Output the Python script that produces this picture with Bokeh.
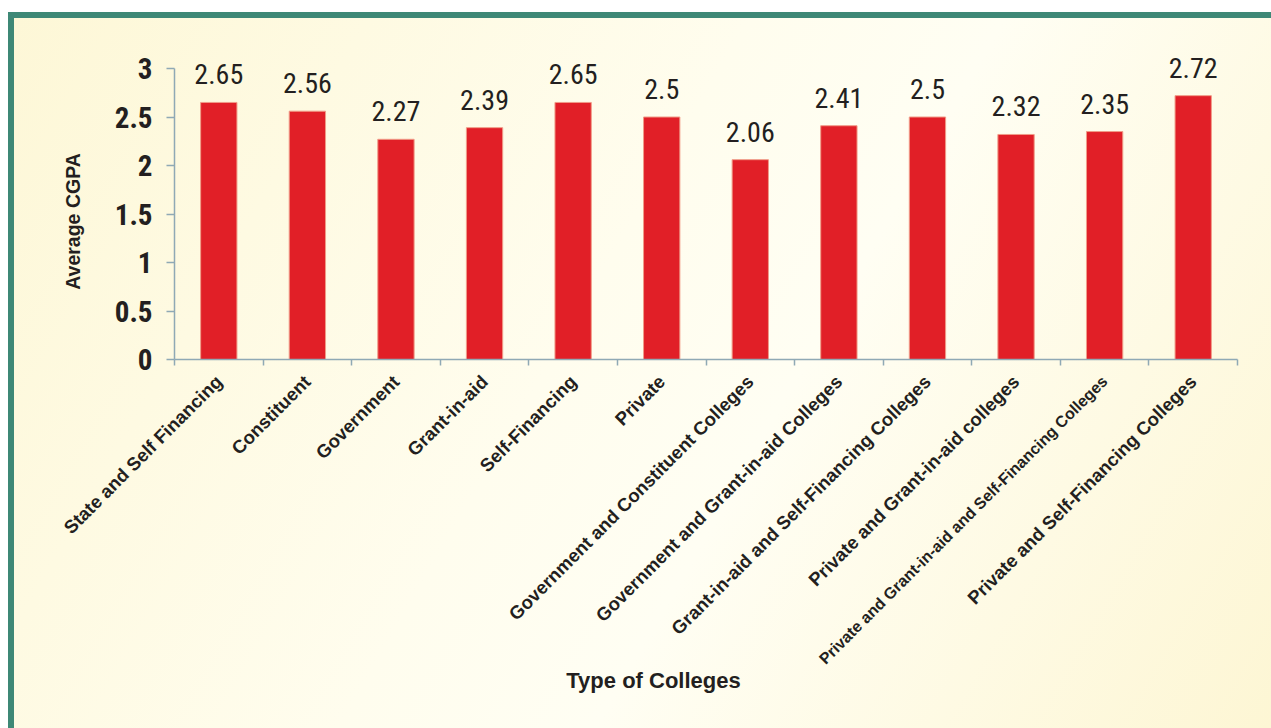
import math
from bokeh.plotting import figure
from bokeh.models import ColumnDataSource, FixedTicker, Range1d
from bokeh.core.properties import value
from bokeh.embed import file_html
from bokeh.resources import INLINE

# ---- data ----
categories = [
    "State and Self Financing",
    "Constituent",
    "Government",
    "Grant-in-aid",
    "Self-Financing",
    "Private",
    "Government and Constituent Colleges",
    "Government and Grant-in-aid Colleges",
    "Grant-in-aid and Self-Financing Colleges",
    "Private and Grant-in-aid colleges",
    "Private and Grant-in-aid and Self-Financing Colleges",
    "Private and Self-Financing Colleges",
]
avg_cgpa = [2.65, 2.56, 2.27, 2.39, 2.65, 2.5, 2.06, 2.41, 2.5, 2.32, 2.35, 2.72]
y_ticks = [0, 0.5, 1, 1.5, 2, 2.5, 3]
y_tick_labels = ["0", "0.5", "1", "1.5", "2", "2.5", "3"]
y_title = "Average CGPA"
x_title = "Type of Colleges"

# ---- layout (pixels) ----
W, H = 1271, 728
AX_X0, AX_X1 = 174, 1237      # x-axis start / end
AX_Y0, AX_Y3 = 359, 68        # pixel row of value 0 and value 3
NARROW = "'Liberation Sans Narrow', 'Roboto Condensed', 'Liberation Sans', sans-serif"
SANS = "Liberation Sans"
TEAL = "#3e8876"
AXIS = "#8fa9b5"
INK = "#231f20"

n = len(categories)
xs = [i + 0.5 for i in range(n)]
sx = (AX_X1 - AX_X0) / n       # px per category
sy = (AX_Y0 - AX_Y3) / 3.0     # px per CGPA unit

p = figure(
    width=W, height=H,
    x_range=Range1d(-AX_X0 / sx, (W - AX_X0) / sx),
    y_range=Range1d(-(H - AX_Y0) / sy, AX_Y0 / sy),
    output_backend="svg", toolbar_location=None,
    min_border=0, min_border_left=0, min_border_right=0,
    min_border_top=0, min_border_bottom=0,
)
p.background_fill_color = None
p.border_fill_color = None
p.outline_line_color = None
p.xgrid.visible = False
p.ygrid.visible = False
solid = lambda c: f"linear-gradient({c}, {c})"
p.styles = {
    "background": ", ".join([
        f"{solid(TEAL)} 8px 12px / 100% 6px no-repeat",
        f"{solid(TEAL)} 8px 12px / 6px 100% no-repeat",
        f"{solid('#ffffff')} 0 0 / 100% 12px no-repeat",
        f"{solid('#ffffff')} 0 0 / 8px 100% no-repeat",
        "linear-gradient(120deg, #fdf7d6 0%, #fffdee 45%, #fffef3 60%, #fdf6d4 100%)",
    ]),
}

# bars
p.vbar(x=xs, top=avg_cgpa, bottom=0, width=0.41,
       fill_color="#e11f27", line_color="#f09c88", line_width=1)

# value labels
src_val = ColumnDataSource(dict(x=xs, y=[v + 18 / sy for v in avg_cgpa],
                                t=[str(v) for v in avg_cgpa]))
p.text(x="x", y="y", text="t", source=src_val, text_align="center",
       text_baseline="bottom", text_font=value(NARROW), text_font_size="28px",
       text_color=INK)

# y axis, drawn at x = 0
ya = p.yaxis[0]
ya.fixed_location = 0
ya.ticker = FixedTicker(ticks=y_ticks)
ya.major_label_overrides = {t: l for t, l in zip(y_ticks, y_tick_labels)}
ya.bounds = (0, 3)
ya.major_label_text_font = NARROW
ya.major_label_text_font_style = "bold"
ya.major_label_text_font_size = "29px"
ya.major_label_text_color = INK
ya.major_tick_out = 8
ya.major_tick_in = 0
ya.minor_tick_line_color = None
ya.axis_line_color = AXIS
ya.major_tick_line_color = AXIS
ya.axis_line_width = 1.5
ya.major_tick_line_width = 1.5
ya.major_label_standoff = 14

# x axis, drawn at y = 0, ticks at category boundaries
xa = p.xaxis[0]
xa.fixed_location = 0
xa.ticker = FixedTicker(ticks=list(range(0, n + 1)))
xa.major_label_overrides = {i: "" for i in range(0, n + 1)}
xa.bounds = (0, n)
xa.major_tick_out = 6
xa.major_tick_in = 0
xa.minor_tick_line_color = None
xa.axis_line_color = AXIS
xa.major_tick_line_color = AXIS
xa.axis_line_width = 1.5
xa.major_tick_line_width = 1.5

# category labels (rotated, ending under each bar)
src_cat = ColumnDataSource(dict(
    x=xs, y=[-19 / sy] * n, t=categories,
    size=["16px" if len(c) > 45 else "18.5px" for c in categories],
))
p.text(x="x", y="y", text="t", source=src_cat, angle=math.radians(45),
       text_align="right", text_baseline="middle", text_font=value(SANS),
       text_font_style="bold", text_font_size="size", text_color=INK)

# axis titles
p.text(x=[(72 - AX_X0) / sx], y=[(AX_Y0 - 221) / sy], text=[y_title],
       angle=math.pi / 2, text_align="center", text_baseline="middle",
       text_font=value(SANS), text_font_style="bold", text_font_size="19.5px",
       text_color=INK)
p.text(x=[(653 - AX_X0) / sx], y=[(AX_Y0 - 680) / sy], text=[x_title],
       text_align="center", text_baseline="middle",
       text_font=value(SANS), text_font_style="bold", text_font_size="22px",
       text_color=INK)

open("out.html", "w").write(file_html(p, INLINE))
